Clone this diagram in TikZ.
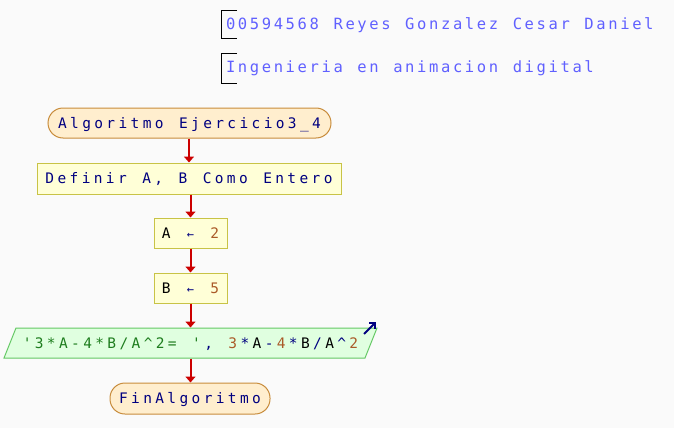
\documentclass[tikz,border=0pt]{standalone}
\usepackage{fontspec}
\usetikzlibrary{arrows.meta}
\newfontfamily\monofam[Ligatures=TeXOff]{DejaVu Sans Mono}
\definecolor{bgcol}{RGB}{250,250,250}
\definecolor{hdrblue}{RGB}{96,96,255}
\definecolor{kwnavy}{RGB}{0,0,128}
\definecolor{numbrown}{RGB}{170,90,40}
\definecolor{strgreen}{RGB}{30,125,30}
\definecolor{termfill}{RGB}{255,238,206}
\definecolor{termdraw}{RGB}{200,140,60}
\definecolor{procfill}{RGB}{255,255,215}
\definecolor{procdraw}{RGB}{200,195,70}
\definecolor{iofill}{RGB}{224,255,224}
\definecolor{iodraw}{RGB}{100,200,100}
\definecolor{linkred}{RGB}{204,0,0}
% every character sits in a cell of fixed width
\newlength\cellpitch
\setlength\cellpitch{12.1pt}
\makeatletter
\def\cells@stop{\cells@stop}
\def\cells#1{\cells@i#1\cells@stop}
\def\cells@i#1{\ifx\cells@stop#1\else\makebox[\cellpitch]{#1}\expandafter\cells@i\fi}
\makeatother
\newcommand{\cc}[2]{{\color{#1}\cells{#2}}}
\newcommand{\larr}{{\fontsize{12}{14}\selectfont ←}}
\tikzset{
  hdr/.style={font=\monofam\fontsize{15.5}{18}\selectfont\setlength\cellpitch{11.95pt},
    text=hdrblue, inner sep=0pt, anchor=base west},
  flow/.style={font=\monofam\fontsize{14.5}{16}\selectfont, text height=13.6pt, text depth=3pt,
    inner sep=0pt, line width=1pt},
  term/.style={flow, draw=termdraw, fill=termfill, rounded corners=15pt, text=kwnavy},
  proc/.style={flow, draw=procdraw, fill=procfill, text=kwnavy},
  iotext/.style={flow, text=kwnavy},
  link/.style={draw=linkred, line width=2pt, -{Triangle[width=10pt,length=6pt]}},
}
\begin{document}
\begin{tikzpicture}[x=1pt,y=-1pt]
\fill[bgcol] (0,0) rectangle (674,428);
\useasboundingbox (0,0) rectangle (674,428);

% header comments
\draw[black, line width=1pt] (237,11) -| (221,39) -- (237,39);
\draw[black, line width=1pt] (237,54) -| (221,83) -- (237,83);
\node[hdr] (author) at (224.5,30) {\cells{00594568~Reyes~Gonzalez~Cesar~Daniel}};
\node[hdr] (career) at (224.5,73) {\cells{Ingenieria~en~animacion~digital}};

% flow nodes
\node[term, minimum width=283pt, minimum height=30pt] (start) at (189.5,123) {\cells{Algoritmo~Ejercicio3\_4}};
\node[proc, minimum width=304pt, minimum height=31pt] (def) at (189,178.5) {\cells{Definir~A,~B~Como~Entero}};
\node[proc, minimum width=73pt, minimum height=30pt] (asa) at (190.5,233) {\cc{black}{A}\cc{kwnavy}{~\larr~}\cc{numbrown}{2}};
\node[proc, minimum width=73pt, minimum height=30pt] (asb) at (190.5,288) {\cc{black}{B}\cc{kwnavy}{~\larr~}\cc{numbrown}{5}};

% output parallelogram
\filldraw[draw=iodraw, fill=iofill, line width=1pt] (16,328) -- (377,328) -- (365,358) -- (4,358) -- cycle;
\node[iotext, minimum width=361pt, minimum height=30pt] (out) at (190.5,343)
  {\cc{strgreen}{'3*A-4*B/A\textasciicircum2=~'}\cc{kwnavy}{,~}\cc{numbrown}{3}\cc{kwnavy}{*}\cc{black}{A}\cc{kwnavy}{-}\cc{numbrown}{4}\cc{kwnavy}{*}\cc{black}{B}\cc{kwnavy}{/}\cc{black}{A}\cc{kwnavy}{\textasciicircum}\cc{numbrown}{2}};
\coordinate (iconfrom) at (364,334);
\coordinate (iconto) at (376,322);
\draw[kwnavy, line width=2pt, -{Straight Barb[length=4pt,width=8pt]}] (iconfrom) -- (iconto);

\node[term, minimum width=160pt, minimum height=31pt] (end) at (190,398.5) {\cells{FinAlgoritmo}};

% connectors
\draw[link] (start.south -| def.north) -- (def.north);
\draw[link] (def.south -| asa.north) -- (asa.north);
\draw[link] (asa.south) -- (asb.north);
\draw[link] (asb.south) -- (asb.south |- out.north);
\draw[link] (asb.south |- out.south) -- (asb.south |- end.north);
\end{tikzpicture}
\end{document}
